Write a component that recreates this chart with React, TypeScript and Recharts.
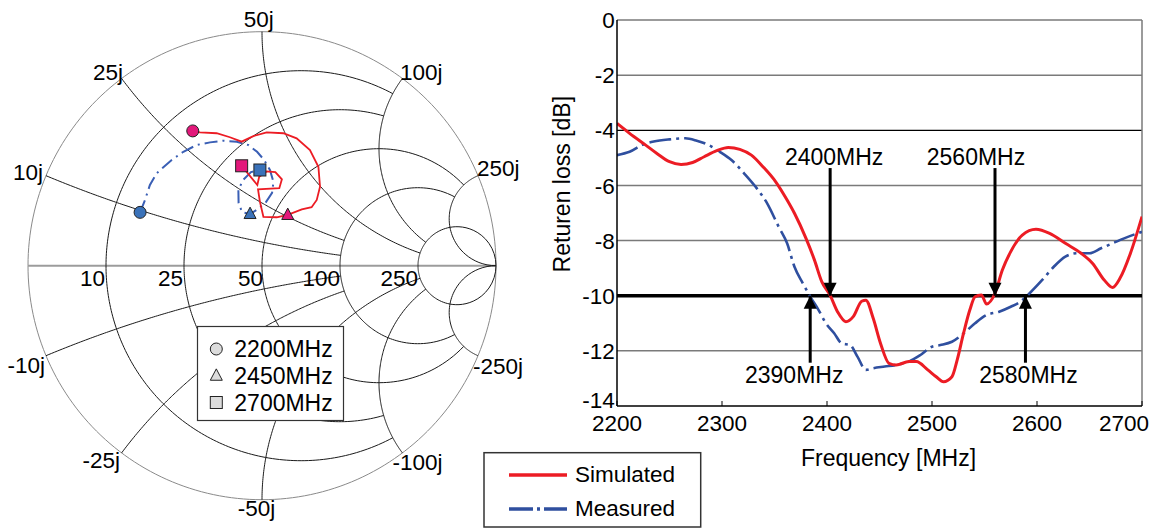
import React from 'react';
import { ScatterChart, Scatter, XAxis, YAxis, LineChart, Line, ReferenceLine, ReferenceDot } from 'recharts';

const FONT = '"Liberation Sans", Arial, Helvetica, sans-serif';

// ---------------- Return loss chart data ----------------
const simFreq = [2200, 2212, 2227, 2238, 2250, 2261, 2272, 2283, 2295, 2306, 2317, 2328, 2339, 2351, 2362, 2369, 2380, 2388, 2395, 2403, 2410, 2418, 2425, 2433, 2437, 2444, 2451, 2459, 2466, 2478, 2485, 2496, 2504, 2511, 2519, 2524, 2530, 2536, 2541, 2547, 2552, 2560, 2567, 2575, 2586, 2599, 2612, 2627, 2642, 2653, 2664, 2672, 2679, 2689, 2700];
const simRL = [-3.75, -4.11, -4.53, -4.84, -5.14, -5.24, -5.17, -4.96, -4.74, -4.62, -4.69, -4.9, -5.32, -5.86, -6.53, -7.01, -7.92, -8.7, -9.49, -9.99, -10.58, -10.94, -10.76, -10.2, -10.16, -10.82, -11.73, -12.45, -12.51, -12.39, -12.39, -12.69, -12.94, -13.12, -12.94, -12.33, -11.37, -10.52, -10.04, -9.97, -10.3, -9.91, -9.07, -8.4, -7.8, -7.59, -7.74, -8.1, -8.46, -8.83, -9.43, -9.7, -9.37, -8.46, -7.13];
const measFreq = [2200, 2212, 2224, 2235, 2250, 2265, 2276, 2287, 2298, 2309, 2321, 2332, 2343, 2354, 2362, 2369, 2377, 2384, 2392, 2399, 2407, 2414, 2422, 2429, 2437, 2444, 2455, 2466, 2478, 2489, 2500, 2508, 2519, 2530, 2541, 2552, 2564, 2575, 2584, 2593, 2605, 2616, 2627, 2638, 2650, 2661, 2672, 2683, 2700];
const measRL = [-4.9, -4.78, -4.53, -4.41, -4.33, -4.29, -4.38, -4.53, -4.78, -5.08, -5.56, -6.05, -6.65, -7.5, -8.1, -8.95, -9.55, -10.03, -10.52, -11.0, -11.37, -11.73, -11.79, -12.21, -12.69, -12.63, -12.57, -12.51, -12.39, -12.15, -11.85, -11.79, -11.67, -11.37, -11.0, -10.7, -10.58, -10.4, -10.22, -9.91, -9.43, -8.95, -8.58, -8.46, -8.46, -8.28, -8.1, -7.92, -7.68];
const freqTicks = [2200, 2300, 2400, 2500, 2600, 2700];
const rlTicks = [0, -2, -4, -6, -8, -10, -12, -14];
const threshold = -10;
const arrowFreqs = [2403, 2560, 2384, 2589];
const arrowLabels = ['2400MHz', '2560MHz', '2390MHz', '2580MHz'];
const arrowDirs = ['down', 'down', 'up', 'up'];
const arrowTails = [-5.37, -5.37, -12.43, -12.43];

// ---------------- Smith chart data ----------------
const smithValues = [0.2, 0.5, 1, 2, 5];
const smithLimits = [2, 2, 5, 5, Infinity];
const resistanceLabels = ['10', '25', '50', '100', '250'];
const reactanceLabels = ['10j', '25j', '50j', '100j', '250j'];
const simRe = [-0.296, -0.265, -0.194, -0.137, -0.087, -0.037, 0.02, 0.091, 0.148, 0.205, 0.241, 0.248, 0.234, 0.212, 0.17, 0.11, 0.063, 0.006, -0.009, -0.017, 0.074, 0.085, 0.057, 0.02, -0.012, -0.02, -0.051, -0.087];
const simIm = [0.576, 0.57, 0.566, 0.549, 0.53, 0.554, 0.57, 0.566, 0.544, 0.494, 0.423, 0.338, 0.281, 0.25, 0.241, 0.217, 0.207, 0.209, 0.274, 0.326, 0.331, 0.369, 0.4, 0.403, 0.38, 0.345, 0.383, 0.427];
const measRe = [-0.521, -0.5, -0.479, -0.45, -0.386, -0.336, -0.279, -0.222, -0.165, -0.108, -0.059, -0.021, 0.009, 0.034, 0.049, 0.043, 0.017, -0.017, -0.051, -0.085, -0.1, -0.101, -0.081, -0.047, -0.009];
const measIm = [0.228, 0.281, 0.345, 0.395, 0.452, 0.487, 0.516, 0.527, 0.534, 0.53, 0.516, 0.487, 0.452, 0.409, 0.358, 0.311, 0.272, 0.242, 0.221, 0.229, 0.268, 0.324, 0.366, 0.4, 0.409];
const freqMarkerLabels = ['2200MHz', '2450MHz', '2700MHz'];
const markerKinds = ['circle', 'triangle', 'square'];
const simMarkerIdx = [0, 15, 27];
const measMarkerIdx = [0, 18, 24];

// ---------------- styles ----------------
const RED = '#ec1c24';
const BLUE = '#2f4f9f';
const MAGENTA = '#e3187b';
const MBLUE = '#3a72b9';
const GRID = '#1a1a1a';
const FS = 22.5;

const reactLabelStyle = [
  { pos: { anchor: 'end', dx: -3, dy: -3.6 }, neg: { anchor: 'end', dx: -1, dy: 9.2 } },
  { pos: { anchor: 'end', dx: 1.4, dy: -6.5 }, neg: { anchor: 'end', dx: -1.6, dy: 7.1 } },
  { pos: { anchor: 'middle', dx: -3.3, dy: -12.7 }, neg: { anchor: 'middle', dx: -5.5, dy: 8.3 } },
  { pos: { anchor: 'start', dx: -2.4, dy: -6.5 }, neg: { anchor: 'start', dx: -10, dy: 9 } },
  { pos: { anchor: 'start', dx: -1, dy: -7.6 }, neg: { anchor: 'start', dx: -5, dy: 10 } },
];
const resLabelDx = [-1, -1, 1, 0, 0];
const arrowLabelDx = [4, -19, -16, 3];

// ---------------- geometry helpers (grid only) ----------------
const gammaOf = (r: number, x: number) => {
  const d = (r + 1) * (r + 1) + x * x;
  return { x: (r * r + x * x - 1) / d, y: (2 * x) / d };
};
const rCircle = (r: number, xmax: number) => {
  const a = Math.atan(xmax);
  const N = 240;
  const pts = [];
  for (let i = 0; i <= N; i++) {
    const u = -a + (2 * a * i) / N;
    pts.push(gammaOf(r, Math.tan(u)));
  }
  return pts;
};
const xArc = (x: number, rmax: number) => {
  const a = Math.atan(rmax);
  const N = 160;
  const pts = [];
  for (let i = 0; i <= N; i++) {
    const u = (a * i) / N;
    pts.push(gammaOf(Math.tan(u), x));
  }
  return pts;
};

const NoDot = () => null;

const SmithLabel = (p: any) => {
  const d = p.payload;
  return (
    <text x={p.cx + d.dx} y={p.cy + d.dy + 0.36 * FS} textAnchor={d.anchor} fontSize={FS} fontFamily={FONT} fill="#000">
      {d.text}
    </text>
  );
};

const markerShape = (kind: string, fill: string, size: number) => (p: any) => {
  const { cx, cy } = p;
  if (kind === 'circle') return <circle cx={cx} cy={cy} r={size / 2} fill={fill} stroke="#222" strokeWidth={1} />;
  if (kind === 'triangle') {
    const h = size * 0.95;
    return (
      <polygon
        points={`${cx},${cy - h * 0.6} ${cx - size / 2},${cy + h * 0.4} ${cx + size / 2},${cy + h * 0.4}`}
        fill={fill}
        stroke="#222"
        strokeWidth={1}
      />
    );
  }
  return <rect x={cx - size / 2} y={cy - size / 2} width={size} height={size} fill={fill} stroke="#222" strokeWidth={1} />;
};

function SmithChart() {
  const grid: { pts: { x: number; y: number }[]; color: string; width: number }[] = [];
  grid.push({ pts: rCircle(0, Infinity), color: '#8a8a8a', width: 1 });
  grid.push({ pts: [{ x: -1, y: 0 }, { x: 1, y: 0 }], color: '#9c9c9c', width: 2 });
  smithValues.forEach((v, i) => {
    grid.push({ pts: rCircle(v, smithLimits[i]), color: GRID, width: 1 });
    grid.push({ pts: xArc(v, smithLimits[i]), color: GRID, width: 1 });
    grid.push({ pts: xArc(-v, smithLimits[i]), color: GRID, width: 1 });
  });

  const labels: any[] = [];
  smithValues.forEach((v, i) => {
    const rp = gammaOf(v, 0);
    labels.push({ x: rp.x, y: rp.y, text: resistanceLabels[i], anchor: 'end', dx: resLabelDx[i], dy: 12.3 });
    const ep = gammaOf(0, v);
    const s = reactLabelStyle[i];
    labels.push({ x: ep.x, y: ep.y, text: reactanceLabels[i], ...s.pos });
    labels.push({ x: ep.x, y: -ep.y, text: '-' + reactanceLabels[i], ...s.neg });
  });

  const simData = simRe.map((re, i) => ({ x: re, y: simIm[i] }));
  const measData = measRe.map((re, i) => ({ x: re, y: measIm[i] }));

  return (
    <ScatterChart width={530} height={531} margin={{ top: 31.7, right: 34, bottom: 31.3, left: 28 }}>
      <XAxis type="number" dataKey="x" domain={[-1, 1]} hide />
      <YAxis type="number" dataKey="y" domain={[-1, 1]} hide />
      {grid.map((g, i) => (
        <Scatter
          key={'g' + i}
          data={g.pts}
          line={{ stroke: g.color, strokeWidth: g.width }}
          lineType="joint"
          shape={NoDot}
          isAnimationActive={false}
        />
      ))}
      <Scatter data={measData} line={{ stroke: '#3a5fb5', strokeWidth: 2, strokeDasharray: '13 5 2 5' }} lineType="joint" shape={NoDot} isAnimationActive={false} />
      <Scatter data={simData} line={{ stroke: RED, strokeWidth: 1.8 }} lineType="joint" shape={NoDot} isAnimationActive={false} />
      {markerKinds.map((k, i) => (
        <Scatter key={'mm' + i} data={[measData[measMarkerIdx[i]]]} shape={markerShape(k, MBLUE, 12)} isAnimationActive={false} />
      ))}
      {markerKinds.map((k, i) => (
        <Scatter key={'sm' + i} data={[simData[simMarkerIdx[i]]]} shape={markerShape(k, MAGENTA, 12)} isAnimationActive={false} />
      ))}
      <Scatter data={labels} shape={SmithLabel} isAnimationActive={false} />
    </ScatterChart>
  );
}

const XTick = (p: any) => {
  const { x, y, payload } = p;
  const last = payload.value === freqTicks[freqTicks.length - 1];
  return (
    <g>
      <line x1={x} x2={x} y1={y} y2={y - 5} stroke="#000" strokeWidth={1} />
      <text x={last ? x + 7 : x} y={y + 24.5} textAnchor={last ? 'end' : 'middle'} fontSize={FS} fontFamily={FONT} fill="#000">
        {payload.value}
      </text>
    </g>
  );
};

const YTick = (p: any) => {
  const { x, y, payload } = p;
  const bottom = payload.value === rlTicks[rlTicks.length - 1];
  return (
    <text x={x - 2.3} y={y + 0.36 * FS - (bottom ? 6 : 0)} textAnchor="end" fontSize={FS} fontFamily={FONT} fill="#000">
      {String(payload.value)}
    </text>
  );
};

const arrowHead = (dir: string) => (p: any) => {
  const { cx, cy } = p;
  const h = 13;
  const w = 6.5;
  const s = dir === 'down' ? -1 : 1;
  return <polygon points={`${cx},${cy} ${cx - w},${cy + s * h} ${cx + w},${cy + s * h}`} fill="#000" />;
};

const arrowLabel = (text: string, dir: string, dx: number) => (p: any) => {
  const { cx, cy } = p;
  const yc = dir === 'down' ? cy - 11.3 : cy + 12.3;
  return (
    <text x={cx + dx} y={yc + 0.36 * 23} textAnchor="middle" fontSize={23} fontFamily={FONT} fill="#000">
      {text}
    </text>
  );
};

function ReturnLossChart() {
  const simData = simFreq.map((f, i) => ({ f, v: simRL[i] }));
  const measData = measFreq.map((f, i) => ({ f, v: measRL[i] }));
  const grayLines = rlTicks.filter((t) => t !== threshold && t !== -14 && t !== -4);
  return (
    <LineChart width={613} height={531} margin={{ top: 20, right: 11, bottom: 95, left: 0 }}>
      <XAxis
        type="number"
        dataKey="f"
        domain={[freqTicks[0], freqTicks[freqTicks.length - 1]]}
        ticks={freqTicks}
        interval={0}
        height={30}
        tickSize={0}
        tickMargin={0}
        tick={XTick}
        axisLine={{ stroke: '#000', strokeWidth: 1.5 }}
        allowDataOverflow
        label={(p: any) => {
          const vb = p && p.viewBox ? p.viewBox : { x: 77, y: 406, width: 525, height: 30 };
          return (
            <text x={vb.x + vb.width / 2 + 9} y={vb.y + 59.5} textAnchor="middle" fontSize={23} fontFamily={FONT} fill="#000">
              Frequency [MHz]
            </text>
          );
        }}
      />
      <YAxis
        type="number"
        domain={[-14, 0]}
        ticks={rlTicks}
        interval={0}
        width={77}
        tickSize={0}
        tickMargin={0}
        tick={YTick}
        axisLine={{ stroke: '#000', strokeWidth: 1.5 }}
        allowDataOverflow
        label={(p: any) => {
          const vb = p && p.viewBox ? p.viewBox : { x: 0, y: 20, width: 77, height: 386 };
          const cx = vb.x + 22;
          const cy = vb.y + 164.2;
          return (
            <text transform={`translate(${cx},${cy}) rotate(-90)`} x={0} y={0.33 * 23} textAnchor="middle" fontSize={23} fontFamily={FONT} fill="#000">
              Returen loss [dB]
            </text>
          );
        }}
      />
      {grayLines.map((t) => (
        <ReferenceLine key={'gl' + t} y={t} stroke="#7a7a7a" strokeWidth={1.5} />
      ))}
      <ReferenceLine y={-4} stroke="#000" strokeWidth={1.2} />
      <ReferenceLine x={freqTicks[freqTicks.length - 1]} stroke="#7a7a7a" strokeWidth={1.5} />
      <ReferenceLine y={threshold} stroke="#000" strokeWidth={3.5} />
      <Line data={measData} dataKey="v" type="monotone" stroke={BLUE} strokeWidth={2.6} strokeDasharray="22 5 3 5" dot={false} activeDot={false} isAnimationActive={false} />
      <Line data={simData} dataKey="v" type="monotone" stroke={RED} strokeWidth={3} dot={false} activeDot={false} isAnimationActive={false} />
      {arrowFreqs.map((f, i) => (
        <ReferenceLine
          key={'as' + i}
          segment={[
            { x: f, y: arrowTails[i] },
            { x: f, y: threshold },
          ]}
          stroke="#000"
          strokeWidth={3}
        />
      ))}
      {arrowFreqs.map((f, i) => (
        <ReferenceDot key={'ah' + i} x={f} y={threshold} r={1} shape={arrowHead(arrowDirs[i])} />
      ))}
      {arrowFreqs.map((f, i) => (
        <ReferenceDot key={'al' + i} x={f} y={arrowTails[i]} r={1} shape={arrowLabel(arrowLabels[i], arrowDirs[i], arrowLabelDx[i])} />
      ))}
    </LineChart>
  );
}

function Legends() {
  const ys = [349, 375.7, 402.5];
  return (
    <svg width={1153} height={531} style={{ position: 'absolute', left: 0, top: 0, pointerEvents: 'none' }}>
      <rect x={197.5} y={326.5} width={146} height={94} fill="#fff" stroke="#333" strokeWidth={1.2} />
      {markerKinds.map((k, i) => (
        <g key={k}>
          {markerShape(k, '#dcdcdc', 12)({ cx: 216.3, cy: ys[i] })}
          <text x={234.3} y={ys[i] + 8.3} fontSize={23} fontFamily={FONT} fill="#000">
            {freqMarkerLabels[i]}
          </text>
        </g>
      ))}
      <rect x={484} y={452.7} width={216.7} height={74.3} fill="#fff" stroke="#333" strokeWidth={1.5} />
      <line x1={509} x2={567} y1={475} y2={475} stroke={RED} strokeWidth={3.5} />
      <text x={575} y={482} fontSize={FS} fontFamily={FONT} fill="#000">Simulated</text>
      <line x1={509} x2={567} y1={509} y2={509} stroke={BLUE} strokeWidth={3.5} strokeDasharray="24 4 3 4" />
      <text x={575} y={516} fontSize={FS} fontFamily={FONT} fill="#000">Measured</text>
    </svg>
  );
}

export default function App() {
  return (
    <div style={{ position: 'absolute', left: 0, top: 0, width: 1153, height: 531, background: '#fff', fontFamily: FONT }}>
      <div style={{ position: 'absolute', left: 0, top: 0 }}>
        <SmithChart />
      </div>
      <div style={{ position: 'absolute', left: 540, top: 0 }}>
        <ReturnLossChart />
      </div>
      <Legends />
    </div>
  );
}
